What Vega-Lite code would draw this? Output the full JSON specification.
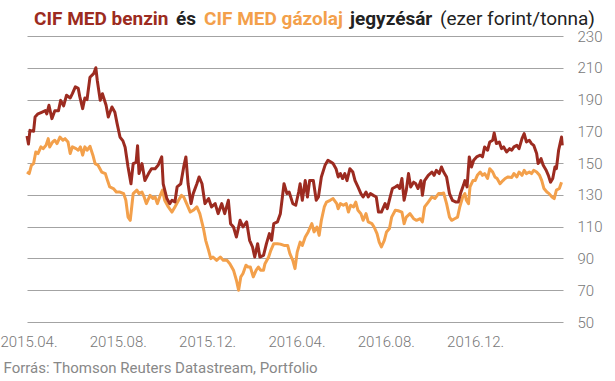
{
"$schema": "https://vega.github.io/schema/vega-lite/v6.json",
"width": 536, "height": 286,
"autosize": {"type": "none"},
"padding": {"left": 27, "top": 36, "right": 52, "bottom": 59},
"background": "white",
"config": {"view": {"stroke": null}, "font": "Roboto"},
"datasets": {
"gazolaj": [
{"d":"2015-03-30","v":144.4},{"d":"2015-04-02","v":143.4},{"d":"2015-04-05","v":148.6},{"d":"2015-04-08","v":149.7},{"d":"2015-04-11","v":157},{"d":"2015-04-14","v":156},{"d":"2015-04-18","v":160.2},{"d":"2015-04-21","v":159.1},{"d":"2015-04-25","v":161.2},{"d":"2015-04-28","v":165.4},{"d":"2015-04-30","v":160.2},{"d":"2015-05-04","v":163.3},{"d":"2015-05-07","v":164.4},{"d":"2015-05-10","v":162.3},{"d":"2015-05-14","v":166.4},{"d":"2015-05-18","v":164.4},{"d":"2015-05-21","v":165.4},{"d":"2015-05-25","v":163.3},{"d":"2015-05-28","v":156},{"d":"2015-05-31","v":160.2},{"d":"2015-06-05","v":159.1},{"d":"2015-06-08","v":158.1},{"d":"2015-06-11","v":160.2},{"d":"2015-06-14","v":155},{"d":"2015-06-17","v":160.2},{"d":"2015-06-20","v":158.1},{"d":"2015-06-24","v":160.6},{"d":"2015-06-28","v":155},{"d":"2015-07-01","v":149.7},{"d":"2015-07-05","v":148.6},{"d":"2015-07-10","v":144.4},{"d":"2015-07-15","v":143.4},{"d":"2015-07-18","v":139},{"d":"2015-07-21","v":135},{"d":"2015-07-26","v":134},{"d":"2015-07-30","v":131.8},{"d":"2015-08-04","v":131.8},{"d":"2015-08-09","v":130.8},{"d":"2015-08-12","v":126.6},{"d":"2015-08-15","v":116},{"d":"2015-08-18","v":114},{"d":"2015-08-20","v":122.4},{"d":"2015-08-22","v":130.8},{"d":"2015-08-27","v":133},{"d":"2015-08-30","v":130.8},{"d":"2015-09-03","v":131.8},{"d":"2015-09-06","v":128.7},{"d":"2015-09-09","v":124.5},{"d":"2015-09-14","v":129.7},{"d":"2015-09-18","v":127.7},{"d":"2015-09-21","v":128.7},{"d":"2015-09-24","v":124.5},{"d":"2015-09-28","v":129.7},{"d":"2015-10-01","v":133},{"d":"2015-10-04","v":126.6},{"d":"2015-10-09","v":122.4},{"d":"2015-10-14","v":119.2},{"d":"2015-10-18","v":122.4},{"d":"2015-10-23","v":126.6},{"d":"2015-10-27","v":129.7},{"d":"2015-10-30","v":128.7},{"d":"2015-11-03","v":124.5},{"d":"2015-11-08","v":119.2},{"d":"2015-11-12","v":120.3},{"d":"2015-11-17","v":122.4},{"d":"2015-11-21","v":118.2},{"d":"2015-11-26","v":108.8},{"d":"2015-11-29","v":101.4},{"d":"2015-12-03","v":95.1},{"d":"2015-12-06","v":89.9},{"d":"2015-12-09","v":90.9},{"d":"2015-12-14","v":88.8},{"d":"2015-12-19","v":90.9},{"d":"2015-12-23","v":88.8},{"d":"2015-12-28","v":88.8},{"d":"2016-01-01","v":86.7},{"d":"2016-01-06","v":82.6},{"d":"2016-01-10","v":76.3},{"d":"2016-01-13","v":70},{"d":"2016-01-16","v":78.4},{"d":"2016-01-19","v":80.5},{"d":"2016-01-23","v":85.7},{"d":"2016-01-26","v":84.6},{"d":"2016-01-29","v":84.6},{"d":"2016-02-02","v":78.4},{"d":"2016-02-06","v":82.6},{"d":"2016-02-09","v":84.6},{"d":"2016-02-12","v":82.6},{"d":"2016-02-16","v":82.6},{"d":"2016-02-18","v":86.7},{"d":"2016-02-23","v":90.9},{"d":"2016-02-26","v":95.1},{"d":"2016-03-01","v":99.3},{"d":"2016-03-06","v":99.3},{"d":"2016-03-10","v":99},{"d":"2016-03-15","v":98.2},{"d":"2016-03-20","v":98.2},{"d":"2016-03-23","v":93},{"d":"2016-03-27","v":88.8},{"d":"2016-03-30","v":83.6},{"d":"2016-04-02","v":94},{"d":"2016-04-06","v":100.3},{"d":"2016-04-09","v":98.2},{"d":"2016-04-13","v":103.5},{"d":"2016-04-17","v":106.7},{"d":"2016-04-22","v":111.9},{"d":"2016-04-25","v":106.7},{"d":"2016-04-29","v":109.8},{"d":"2016-05-02","v":104.5},{"d":"2016-05-05","v":114},{"d":"2016-05-09","v":122.4},{"d":"2016-05-12","v":125.5},{"d":"2016-05-17","v":126.6},{"d":"2016-05-21","v":127.7},{"d":"2016-05-26","v":124.5},{"d":"2016-05-28","v":121.3},{"d":"2016-05-31","v":124.5},{"d":"2016-06-04","v":123.5},{"d":"2016-06-08","v":124.5},{"d":"2016-06-11","v":119.2},{"d":"2016-06-14","v":123.5},{"d":"2016-06-18","v":122.4},{"d":"2016-06-21","v":125.5},{"d":"2016-06-24","v":120.3},{"d":"2016-06-28","v":118.2},{"d":"2016-07-01","v":114},{"d":"2016-07-05","v":118.2},{"d":"2016-07-08","v":113},{"d":"2016-07-13","v":111.9},{"d":"2016-07-16","v":109.8},{"d":"2016-07-20","v":105.6},{"d":"2016-07-23","v":100.3},{"d":"2016-07-26","v":97.2},{"d":"2016-07-30","v":101.4},{"d":"2016-08-02","v":106.7},{"d":"2016-08-06","v":108.8},{"d":"2016-08-09","v":116},{"d":"2016-08-14","v":120.3},{"d":"2016-08-18","v":120},{"d":"2016-08-23","v":119.2},{"d":"2016-08-26","v":111.9},{"d":"2016-08-29","v":116},{"d":"2016-09-03","v":118.2},{"d":"2016-09-08","v":115},{"d":"2016-09-12","v":114},{"d":"2016-09-17","v":115},{"d":"2016-09-20","v":113},{"d":"2016-09-23","v":122.4},{"d":"2016-09-28","v":125.5},{"d":"2016-10-03","v":128.7},{"d":"2016-10-07","v":127.7},{"d":"2016-10-12","v":130.8},{"d":"2016-10-16","v":130.8},{"d":"2016-10-19","v":131.2},{"d":"2016-10-23","v":124.5},{"d":"2016-10-27","v":116},{"d":"2016-10-30","v":114},{"d":"2016-11-03","v":115},{"d":"2016-11-07","v":116},{"d":"2016-11-10","v":122.4},{"d":"2016-11-14","v":128.7},{"d":"2016-11-17","v":130.8},{"d":"2016-11-19","v":126.6},{"d":"2016-11-22","v":124.5},{"d":"2016-11-24","v":135},{"d":"2016-11-28","v":139},{"d":"2016-12-01","v":139},{"d":"2016-12-04","v":142.3},{"d":"2016-12-08","v":144.4},{"d":"2016-12-11","v":142.3},{"d":"2016-12-14","v":143.4},{"d":"2016-12-18","v":140.3},{"d":"2016-12-21","v":146.5},{"d":"2016-12-25","v":144.4},{"d":"2016-12-28","v":141.3},{"d":"2016-12-31","v":140.3},{"d":"2017-01-04","v":137},{"d":"2017-01-08","v":139},{"d":"2017-01-11","v":140.3},{"d":"2017-01-15","v":141.3},{"d":"2017-01-20","v":141},{"d":"2017-01-23","v":143.4},{"d":"2017-01-27","v":141.3},{"d":"2017-01-30","v":144.4},{"d":"2017-02-03","v":142.3},{"d":"2017-02-06","v":145.5},{"d":"2017-02-09","v":143.4},{"d":"2017-02-13","v":144.4},{"d":"2017-02-16","v":143.4},{"d":"2017-02-19","v":145.5},{"d":"2017-02-23","v":144.4},{"d":"2017-02-27","v":142.3},{"d":"2017-03-02","v":139},{"d":"2017-03-05","v":134},{"d":"2017-03-09","v":131.8},{"d":"2017-03-12","v":130.8},{"d":"2017-03-16","v":128.7},{"d":"2017-03-19","v":127.7},{"d":"2017-03-22","v":133},{"d":"2017-03-26","v":134},{"d":"2017-03-29","v":138}
],
"benzin": [
{"d":"2015-03-30","v":167},{"d":"2015-04-01","v":162},{"d":"2015-04-03","v":170.6},{"d":"2015-04-08","v":170},{"d":"2015-04-10","v":179},{"d":"2015-04-14","v":181},{"d":"2015-04-19","v":182},{"d":"2015-04-24","v":183},{"d":"2015-04-26","v":181},{"d":"2015-04-29","v":186.4},{"d":"2015-05-03","v":178},{"d":"2015-05-07","v":183},{"d":"2015-05-12","v":183},{"d":"2015-05-15","v":189.5},{"d":"2015-05-19","v":186},{"d":"2015-05-23","v":192.7},{"d":"2015-05-28","v":191},{"d":"2015-05-31","v":193.7},{"d":"2015-06-04","v":198},{"d":"2015-06-08","v":197},{"d":"2015-06-10","v":192},{"d":"2015-06-14","v":184.3},{"d":"2015-06-17","v":191},{"d":"2015-06-20","v":190},{"d":"2015-06-24","v":204},{"d":"2015-06-29","v":206.3},{"d":"2015-07-02","v":210},{"d":"2015-07-04","v":202},{"d":"2015-07-08","v":189.5},{"d":"2015-07-11","v":193.7},{"d":"2015-07-16","v":186.4},{"d":"2015-07-19","v":179},{"d":"2015-07-24","v":185.3},{"d":"2015-07-28","v":182},{"d":"2015-07-31","v":175},{"d":"2015-08-04","v":166.4},{"d":"2015-08-08","v":164},{"d":"2015-08-11","v":160},{"d":"2015-08-15","v":147.6},{"d":"2015-08-19","v":137},{"d":"2015-08-22","v":149.7},{"d":"2015-08-26","v":150.5},{"d":"2015-08-28","v":161},{"d":"2015-08-30","v":143.4},{"d":"2015-09-03","v":149.7},{"d":"2015-09-07","v":139},{"d":"2015-09-12","v":143.4},{"d":"2015-09-16","v":146.5},{"d":"2015-09-21","v":146.5},{"d":"2015-09-25","v":148.6},{"d":"2015-09-30","v":153.9},{"d":"2015-10-02","v":137},{"d":"2015-10-07","v":127.7},{"d":"2015-10-11","v":124.5},{"d":"2015-10-14","v":126.6},{"d":"2015-10-18","v":125.5},{"d":"2015-10-21","v":135},{"d":"2015-10-26","v":137},{"d":"2015-10-30","v":147.6},{"d":"2015-11-02","v":153.9},{"d":"2015-11-05","v":137},{"d":"2015-11-09","v":124.5},{"d":"2015-11-12","v":130.8},{"d":"2015-11-17","v":137},{"d":"2015-11-20","v":141.3},{"d":"2015-11-24","v":137},{"d":"2015-11-28","v":124.5},{"d":"2015-12-03","v":127.7},{"d":"2015-12-07","v":122.4},{"d":"2015-12-12","v":124.5},{"d":"2015-12-16","v":118.2},{"d":"2015-12-21","v":124.5},{"d":"2015-12-25","v":118.2},{"d":"2015-12-30","v":126.6},{"d":"2016-01-02","v":111.9},{"d":"2016-01-06","v":109.8},{"d":"2016-01-10","v":103.5},{"d":"2016-01-15","v":114},{"d":"2016-01-19","v":109.8},{"d":"2016-01-24","v":113},{"d":"2016-01-28","v":101.4},{"d":"2016-02-01","v":97.2},{"d":"2016-02-04","v":90.9},{"d":"2016-02-08","v":99.3},{"d":"2016-02-11","v":90.9},{"d":"2016-02-16","v":91.9},{"d":"2016-02-20","v":99.3},{"d":"2016-02-24","v":105.6},{"d":"2016-02-27","v":101.4},{"d":"2016-03-01","v":111.9},{"d":"2016-03-06","v":113},{"d":"2016-03-10","v":118.2},{"d":"2016-03-15","v":137},{"d":"2016-03-19","v":130.8},{"d":"2016-03-22","v":131.8},{"d":"2016-03-27","v":124.5},{"d":"2016-03-31","v":123.5},{"d":"2016-04-04","v":131.8},{"d":"2016-04-06","v":137},{"d":"2016-04-09","v":126.6},{"d":"2016-04-13","v":139},{"d":"2016-04-16","v":128.7},{"d":"2016-04-19","v":139},{"d":"2016-04-24","v":139},{"d":"2016-04-28","v":126.6},{"d":"2016-05-01","v":128.7},{"d":"2016-05-05","v":141.3},{"d":"2016-05-10","v":148.6},{"d":"2016-05-14","v":151.8},{"d":"2016-05-18","v":150.7},{"d":"2016-05-21","v":149.7},{"d":"2016-05-25","v":146.5},{"d":"2016-05-28","v":141.3},{"d":"2016-05-31","v":143.4},{"d":"2016-06-03","v":140.3},{"d":"2016-06-06","v":143.4},{"d":"2016-06-09","v":139},{"d":"2016-06-13","v":146.5},{"d":"2016-06-17","v":144.4},{"d":"2016-06-20","v":139},{"d":"2016-06-24","v":135},{"d":"2016-06-28","v":130.8},{"d":"2016-07-01","v":128.7},{"d":"2016-07-05","v":131.8},{"d":"2016-07-08","v":128.7},{"d":"2016-07-11","v":130.8},{"d":"2016-07-15","v":129.7},{"d":"2016-07-19","v":128.7},{"d":"2016-07-22","v":119.2},{"d":"2016-07-26","v":119.2},{"d":"2016-07-31","v":124.5},{"d":"2016-08-03","v":121.3},{"d":"2016-08-07","v":128.7},{"d":"2016-08-10","v":134},{"d":"2016-08-14","v":135},{"d":"2016-08-17","v":136},{"d":"2016-08-20","v":134},{"d":"2016-08-23","v":140.3},{"d":"2016-08-26","v":126.6},{"d":"2016-08-29","v":133},{"d":"2016-09-01","v":143.4},{"d":"2016-09-04","v":135},{"d":"2016-09-08","v":138},{"d":"2016-09-11","v":137},{"d":"2016-09-14","v":134},{"d":"2016-09-18","v":139},{"d":"2016-09-20","v":129.7},{"d":"2016-09-23","v":139},{"d":"2016-09-28","v":142.3},{"d":"2016-10-03","v":144.4},{"d":"2016-10-06","v":142.3},{"d":"2016-10-09","v":145.5},{"d":"2016-10-13","v":143.4},{"d":"2016-10-16","v":147.6},{"d":"2016-10-19","v":144.4},{"d":"2016-10-23","v":141.3},{"d":"2016-10-27","v":130.8},{"d":"2016-10-31","v":126.6},{"d":"2016-11-05","v":125.5},{"d":"2016-11-08","v":125.5},{"d":"2016-11-11","v":130.8},{"d":"2016-11-15","v":136},{"d":"2016-11-17","v":139},{"d":"2016-11-20","v":135},{"d":"2016-11-23","v":153.9},{"d":"2016-11-26","v":147.6},{"d":"2016-11-29","v":151.8},{"d":"2016-12-03","v":153.9},{"d":"2016-12-08","v":155},{"d":"2016-12-11","v":153.9},{"d":"2016-12-14","v":160.2},{"d":"2016-12-18","v":158.1},{"d":"2016-12-21","v":163.3},{"d":"2016-12-25","v":164.4},{"d":"2016-12-27","v":169},{"d":"2016-12-30","v":162.3},{"d":"2017-01-03","v":163.3},{"d":"2017-01-06","v":159.1},{"d":"2017-01-09","v":160.2},{"d":"2017-01-13","v":157},{"d":"2017-01-17","v":159.1},{"d":"2017-01-20","v":158.1},{"d":"2017-01-23","v":160.2},{"d":"2017-01-27","v":161.2},{"d":"2017-01-30","v":159.1},{"d":"2017-02-03","v":165.4},{"d":"2017-02-06","v":168.6},{"d":"2017-02-09","v":163.3},{"d":"2017-02-13","v":164.4},{"d":"2017-02-16","v":162.3},{"d":"2017-02-19","v":161.2},{"d":"2017-02-23","v":156},{"d":"2017-02-25","v":149.7},{"d":"2017-03-01","v":152.8},{"d":"2017-03-04","v":148.6},{"d":"2017-03-08","v":145.5},{"d":"2017-03-11","v":142.3},{"d":"2017-03-14","v":138},{"d":"2017-03-17","v":140.3},{"d":"2017-03-20","v":147.6},{"d":"2017-03-22","v":146.5},{"d":"2017-03-25","v":158.1},{"d":"2017-03-27","v":162.3},{"d":"2017-03-29","v":166.4},{"d":"2017-03-30","v":161.2}
]
},
"encoding": {
"x": {"field": "d", "type": "temporal",
 "scale": {"type": "utc", "domain": [{"year":2015,"month":3,"date":30,"utc":true},{"year":2017,"month":3,"date":31,"utc":true}]},
 "axis": {"title": "Forrás: Thomson Reuters Datastream, Portfolio", "titleAnchor": "start", "titleAlign": "left", "titleX": -24, "titleY": 50, "titleBaseline": "alphabetic", "titleFontSize": 15, "titleFontWeight": "normal", "titleColor": "#888888", "titleFont": "Roboto",
  "values": [{"year":2015,"month":4,"date":1,"utc":true},{"year":2015,"month":8,"date":1,"utc":true},{"year":2015,"month":12,"date":1,"utc":true},{"year":2016,"month":4,"date":1,"utc":true},{"year":2016,"month":8,"date":1,"utc":true},{"year":2016,"month":12,"date":1,"utc":true}],
  "format": "%Y.%m.", "labelFlush": false, "labelOverlap": false, "labelFont": "Roboto", "labelFontSize": 15, "labelFontWeight": 300, "labelColor": "#777777", "labelPadding": 12, "ticks": false, "domain": false, "grid": false}},
"y": {"field": "v", "type": "quantitative",
 "scale": {"domain": [50, 230], "nice": false, "zero": false},
 "axis": {"orient": "right", "title": null, "values": [50,70,90,110,130,150,170,190,210,230], "grid": true, "gridColor": "#a3a3a3", "gridWidth": 1, "ticks": false, "domain": false, "labelPadding": 14, "labelFont": "Roboto", "labelFontSize": 15, "labelFontWeight": 300, "labelColor": "#777777"}}
},
"layer": [
{"data": {"name": "gazolaj"},
 "mark": {"type": "line", "strokeWidth": 3, "strokeJoin": "round"},
 "encoding": {"color": {"datum": "CIF MED gázolaj", "type": "nominal",
  "scale": {"domain": ["CIF MED benzin", "és", "CIF MED gázolaj", "jegyzésár", "(ezer forint/tonna)"], "range": ["#9c2b20", "#222222", "#f3a04b", "#222222", "#222222"]},
  "legend": {"orient": "none", "legendX": -12, "legendY": -27, "direction": "horizontal", "gridAlign": "none", "title": null, "symbolSize": 0, "symbolOpacity": 0, "symbolStrokeWidth": 0, "labelOffset": 0, "columnPadding": -12, "padding": 0, "labelFont": "Roboto", "labelFontSize": 19, "labelFontWeight": "bold", "labelLimit": 400,
   "labelExpr": "datum.value === 'jegyzésár' ? '\u00a0\u00a0jegyzésár' : datum.label",
   "encode": {"labels": {"update": {"fill": {"scale": "color", "field": "value"}, "fontWeight": {"signal": "datum.value === '(ezer forint/tonna)' ? 'normal' : 'bold'"}}}}}}}},
{"data": {"name": "benzin"},
 "mark": {"type": "line", "strokeWidth": 3, "strokeJoin": "round"},
 "encoding": {"color": {"datum": "CIF MED benzin", "type": "nominal"}}}
]
}
